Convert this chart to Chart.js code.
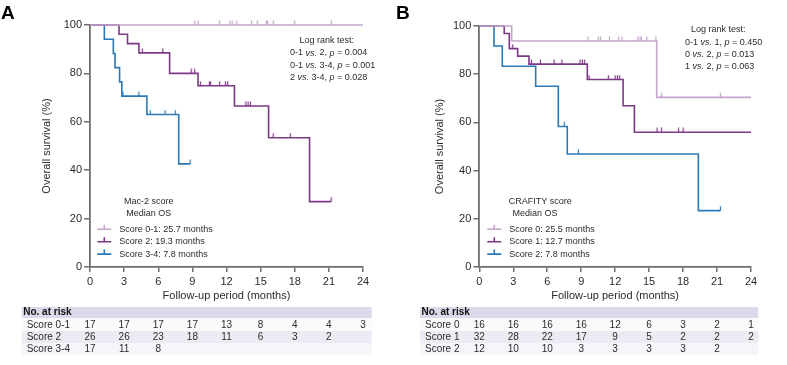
<!DOCTYPE html>
<html>
<head>
<meta charset="utf-8">
<script src="https://cdn.jsdelivr.net/npm/chart.js@4.4.0/dist/chart.umd.min.js"></script>
<style>
  html, body { margin: 0; padding: 0; background: #fff; }
  #wrap { position: relative; width: 787px; height: 365px; }
  canvas { position: absolute; top: 0; }
  #chartA { left: 0; }
  #chartB { left: 393px; }
</style>
</head>
<body>
<div id="wrap">
  <canvas id="chartA" width="393" height="365"></canvas>
  <canvas id="chartB" width="394" height="365"></canvas>
</div>
<script>
const monthTicks = [0, 3, 6, 9, 12, 15, 18, 21, 24];
const survivalTicks = [0, 20, 40, 60, 80, 100];
const seriesColors = ['#c6a4cd', '#7c3886', '#2a79b6'];

// Panel A: Mac-2 score
const macLabels = ['Score 0-1', 'Score 2', 'Score 3-4'];
const macMedians = ['25.7 months', '19.3 months', '7.8 months'];
const macTimes01 = [0, 24];
const macSurv01 = [100, 100];
const macCens01 = [9.2, 9.5, 11.4, 12.3, 12.5, 12.9, 14.2, 14.7, 15.5, 15.6, 16.1, 18.0, 21.2];
const macTimes2 = [0, 2.55, 3.3, 4.3, 7.0, 9.5, 12.7, 15.7, 19.3, 21.2];
const macSurv2 = [100, 96.2, 92.3, 88.5, 80.0, 74.9, 66.5, 53.4, 27.0, 27.0];
const macCens2 = [4.6, 6.4, 8.9, 9.2, 9.7, 10.5, 10.6, 11.4, 11.9, 12.1, 13.7, 13.9, 14.1, 16.1, 17.6, 21.2];
const macTimes34 = [0, 1.26, 2.05, 2.2, 2.6, 2.8, 5.0, 7.8, 8.8];
const macSurv34 = [100, 94.1, 88.2, 82.4, 76.5, 70.6, 63.0, 42.6, 42.6];
const macCens34 = [2.9, 4.3, 5.3, 6.6, 7.5, 8.8];
const macRisk01 = [17, 17, 17, 17, 13, 8, 4, 4, 3];
const macRisk2 = [26, 26, 23, 18, 11, 6, 3, 2];
const macRisk34 = [17, 11, 8];
const macLogRank = ['0-1 *vs.* 2, *p* = 0.004', '0-1 *vs.* 3-4, *p* = 0.001', '2 *vs.* 3-4, *p* = 0.028'];

// Panel B: CRAFITY score
const crafLabels = ['Score 0', 'Score 1', 'Score 2'];
const crafMedians = ['25.5 months', '12.7 months', '7.8 months'];
const crafTimes0 = [0, 2.86, 15.67, 24];
const crafSurv0 = [100, 93.8, 70.4, 70.4];
const crafCens0 = [9.6, 10.5, 10.7, 11.5, 12.3, 12.6, 14.0, 14.2, 14.3, 14.8, 15.6, 16.1, 21.3];
const crafTimes1 = [0, 2.2, 2.65, 3.39, 4.39, 9.54, 12.7, 13.7, 24];
const crafSurv1 = [100, 96.9, 90.6, 87.5, 84.2, 77.8, 66.9, 55.9, 55.9];
const crafCens1 = [2.95, 4.6, 5.4, 6.6, 7.3, 8.9, 9.1, 9.3, 9.7, 11.4, 12.0, 12.2, 12.4, 15.7, 16.1, 17.6, 18.0];
const crafTimes2 = [0, 1.3, 2.03, 4.98, 6.98, 7.77, 19.35, 21.3];
const crafSurv2 = [100, 91.7, 83.3, 75.0, 58.3, 46.9, 23.4, 23.4];
const crafCens2 = [7.5, 8.75, 21.3];
const crafRisk0 = [16, 16, 16, 16, 12, 6, 3, 2, 1];
const crafRisk1 = [32, 28, 22, 17, 9, 5, 2, 2, 2];
const crafRisk2 = [12, 10, 10, 3, 3, 3, 3, 2];
const crafLogRank = ['0-1 *vs.* 1, *p* = 0.450', '0 *vs.* 2, *p* = 0.013', '1 *vs.* 2, *p* = 0.063'];

const FONT = '"Liberation Sans", Arial, Helvetica, sans-serif';
const TEXT = '#2b2b2b';
const AXIS = '#6e6e6e';

function survAt(times, surv, t) {
    let s = surv[0];
    for (let i = 0; i < times.length; i++) {
        if (times[i] <= t) s = surv[i];
    }
    return s;
}

// small upward tick used for censored observations
function censorMark(color) {
    const c = document.createElement('canvas');
    c.width = 3;
    c.height = 10;
    const g = c.getContext('2d');
    g.strokeStyle = color;
    g.lineWidth = 1.2;
    g.beginPath();
    g.moveTo(1.5, 0.5);
    g.lineTo(1.5, 5);
    g.stroke();
    return c;
}

function drawRich(ctx, str, x, y, size) {
    const parts = str.split('*');
    let cx = x;
    parts.forEach((p, i) => {
        ctx.font = (i % 2 ? 'italic ' : '') + size + 'px ' + FONT;
        ctx.fillText(p, cx, y);
        cx += ctx.measureText(p).width;
    });
}

const kmExtras = {
    id: 'kmExtras',
    afterDraw(chart, args, opts) {
        const ctx = chart.ctx;
        const x = chart.scales.x;
        ctx.save();
        ctx.fillStyle = '#000';
        ctx.textBaseline = 'middle';

        // panel letter
        ctx.font = 'bold 19px ' + FONT;
        ctx.textAlign = 'left';
        ctx.fillText(opts.letter, opts.letterX, 14);

        // log rank block
        ctx.fillStyle = TEXT;
        ctx.font = '9px ' + FONT;
        ctx.textAlign = 'center';
        ctx.fillText('Log rank test:', opts.logRank.cx, opts.logRank.y);
        ctx.textAlign = 'left';
        opts.logRank.lines.forEach((l, i) => {
            drawRich(ctx, l, opts.logRank.x, opts.logRank.y + 12.3 * (i + 1), 9);
        });

        // legend block
        const lg = opts.legend;
        ctx.font = '9px ' + FONT;
        ctx.textAlign = 'center';
        ctx.fillText(lg.title, lg.titleX, 202);
        ctx.fillText('Median OS', lg.medX, 214);
        ctx.textAlign = 'left';
        lg.labels.forEach((lab, i) => {
            const y = 229.3 + i * 12.4;
            ctx.strokeStyle = seriesColors[i];
            ctx.lineWidth = 1.6;
            ctx.beginPath();
            ctx.moveTo(lg.symX, y);
            ctx.lineTo(lg.symX + 14, y);
            ctx.moveTo(lg.symX + 7, y);
            ctx.lineTo(lg.symX + 7, y - 4.5);
            ctx.stroke();
            ctx.fillText(lab + ': ' + lg.medians[i], lg.textX, y);
        });

        // number at risk table
        const tb = opts.table;
        const rows = [[307, 318, '#dcd9ea'], [318, 331, '#fafafc'], [331, 343, '#ecebf4'], [343, 355, '#f6f5fa']];
        rows.forEach(([y0, y1, c]) => {
            ctx.fillStyle = c;
            ctx.fillRect(tb.left, y0, tb.right - tb.left, y1 - y0);
        });
        ctx.fillStyle = '#111';
        ctx.font = 'bold 10px ' + FONT;
        ctx.fillText('No. at risk', tb.left + 1.5, 312.5);
        ctx.font = '10px ' + FONT;
        ctx.fillStyle = TEXT;
        tb.rows.forEach((vals, r) => {
            const y = [325.3, 337.3, 349][r];
            ctx.textAlign = 'left';
            ctx.fillText(lg.labels[r], tb.labelX, y);
            ctx.textAlign = 'center';
            vals.forEach((v, i) => {
                ctx.fillText(String(v), x.getPixelForValue(monthTicks[i]), y);
            });
        });
        ctx.restore();
    }
};

function makeKmChart(id, cfg) {
    const datasets = [];
    cfg.series.forEach((s, i) => {
        datasets.push({
            type: 'line',
            data: s.times.map((t, k) => ({ x: t, y: s.surv[k] })),
            stepped: true,
            borderColor: seriesColors[i],
            borderWidth: 1.6,
            pointRadius: 0,
            fill: false,
            clip: false
        });
        datasets.push({
            type: 'scatter',
            data: s.censored.map(t => ({ x: t, y: survAt(s.times, s.surv, t) })),
            pointStyle: censorMark(seriesColors[i]),
            pointRadius: 3,
            borderColor: seriesColors[i],
            clip: false
        });
    });

    return new Chart(document.getElementById(id), {
        type: 'line',
        data: { datasets },
        plugins: [kmExtras],
        options: {
            responsive: false,
            animation: false,
            events: [],
            layout: { padding: cfg.padding },
            plugins: {
                legend: { display: false },
                tooltip: { enabled: false },
                kmExtras: cfg.extras
            },
            scales: {
                x: {
                    type: 'linear',
                    min: 0,
                    max: 24,
                    afterBuildTicks: s => { s.ticks = monthTicks.map(v => ({ value: v })); },
                    afterFit: s => { s.height = 36; },
                    grid: { drawOnChartArea: false, color: AXIS, tickLength: 5, lineWidth: 1.5 },
                    border: { color: AXIS, width: 1.8 },
                    ticks: { color: TEXT, font: { family: FONT, size: 11 }, padding: 3 },
                    title: {
                        display: true,
                        text: 'Follow-up period (months)',
                        color: TEXT,
                        font: { family: FONT, size: 11 },
                        padding: 0
                    }
                },
                y: {
                    min: 0,
                    max: 100,
                    afterBuildTicks: s => { s.ticks = survivalTicks.map(v => ({ value: v })); },
                    afterFit: s => { s.width = cfg.yWidth; },
                    grid: { drawOnChartArea: false, color: AXIS, tickLength: 6, lineWidth: 1.5 },
                    border: { color: AXIS, width: 1.8 },
                    ticks: { color: TEXT, font: { family: FONT, size: 11 }, padding: 2 },
                    title: {
                        display: true,
                        text: 'Overall survival (%)',
                        color: TEXT,
                        font: { family: FONT, size: 11 },
                        padding: { top: 40.4, bottom: 0 }
                    }
                }
            }
        }
    });
}

makeKmChart('chartA', {
    yWidth: 90,
    padding: { top: 25, right: 30, bottom: 62, left: 0 },
    series: [
        { times: macTimes01, surv: macSurv01, censored: macCens01 },
        { times: macTimes2, surv: macSurv2, censored: macCens2 },
        { times: macTimes34, surv: macSurv34, censored: macCens34 }
    ],
    extras: {
        letter: 'A',
        letterX: 1,
        logRank: { cx: 326.7, x: 290, y: 40.7, lines: macLogRank },
        legend: { title: 'Mac-2 score', titleX: 148.8, medX: 148.8, symX: 97.3, textX: 119.3, labels: macLabels, medians: macMedians },
        table: { left: 21.7, right: 371.7, labelX: 26.7, rows: [macRisk01, macRisk2, macRisk34] }
    }
});

makeKmChart('chartB', {
    yWidth: 86.3,
    padding: { top: 26, right: 36, bottom: 62, left: 0 },
    series: [
        { times: crafTimes0, surv: crafSurv0, censored: crafCens0 },
        { times: crafTimes1, surv: crafSurv1, censored: crafCens1 },
        { times: crafTimes2, surv: crafSurv2, censored: crafCens2 }
    ],
    extras: {
        letter: 'B',
        letterX: 3,
        logRank: { cx: 325.3, x: 292, y: 30, lines: crafLogRank },
        legend: { title: 'CRAFITY score', titleX: 147.3, medX: 142, symX: 94.3, textX: 116.3, labels: crafLabels, medians: crafMedians },
        table: { left: 27, right: 365.3, labelX: 32, rows: [crafRisk0, crafRisk1, crafRisk2] }
    }
});
</script>
</body>
</html>
